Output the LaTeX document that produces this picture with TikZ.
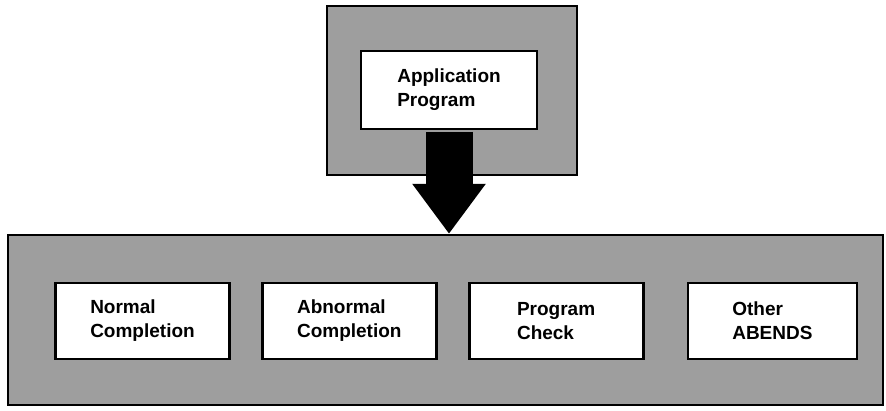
\documentclass[tikz,border=0pt]{standalone}
\usepackage{fontspec}
\setmainfont{Liberation Sans}
\usepackage{tikz}
\usetikzlibrary{arrows.meta,positioning}

\begin{document}
\begin{tikzpicture}[
  x=1pt, y=1pt,
  panel/.style={draw, line width=2.2pt, fill=black!38},
  task/.style={draw, line width=2.8pt, fill=white, minimum width=174pt, minimum height=76pt,
    align=left, font=\fontsize{19}{24}\selectfont\bfseries},
  node distance=30pt
]
\useasboundingbox (0,0) rectangle (886,411);

\node [panel, minimum width=250pt, minimum height=169pt] (caller) at (452,320.5) {};
\node [panel, minimum width=875pt, minimum height=170pt] (exits) at (445.5,91) {};

\node [task, minimum width=176pt, minimum height=78pt] (app) at (449,321) {Application\\Program};

\draw [line width=47pt, shorten <=1.4pt, -{Triangle[width=70pt,length=50pt]}]
  (app.south) -- (exits.north -| app.south);

\node [task] (normal) at (142.5,90) {Normal\\Completion};
\node [task, right=of normal] (abnormal) {Abnormal\\Completion};
\node [task, right=of abnormal] (pgmcheck) {Program\\Check};
\node [task, minimum width=169pt, right=42pt of pgmcheck] (other) {Other\\ABENDS};
\end{tikzpicture}
\end{document}
